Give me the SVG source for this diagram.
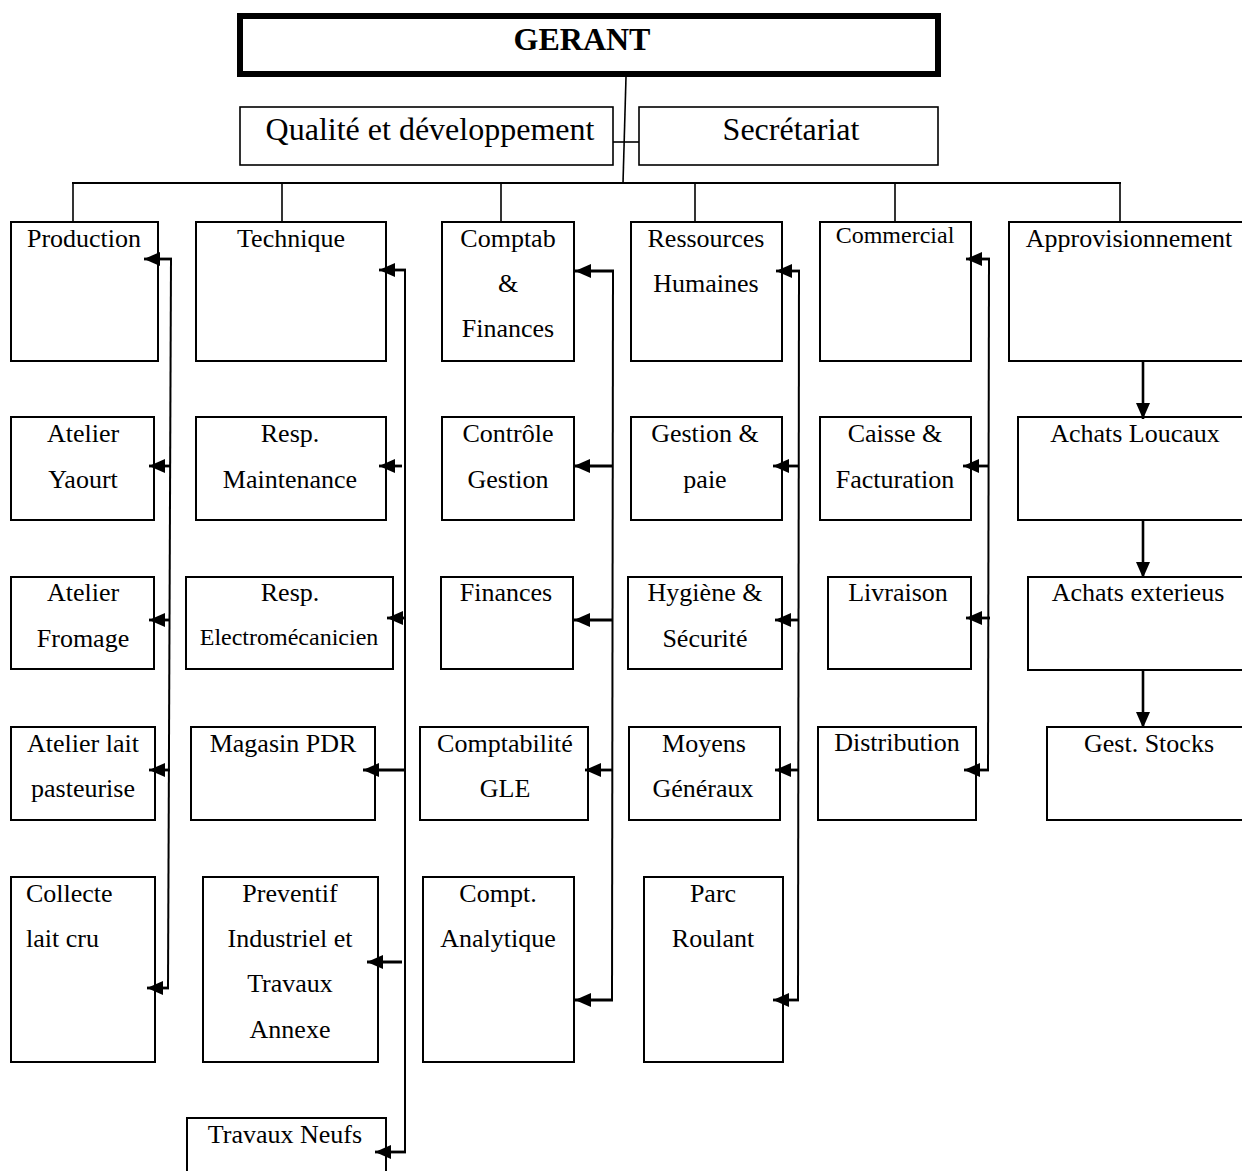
<svg xmlns="http://www.w3.org/2000/svg" width="1242" height="1171" viewBox="0 0 1242 1171">
<style>
  .bx { fill: #fff; stroke: #000; stroke-width: 2; }
  .bxt { fill: #fff; stroke: #000; stroke-width: 1.6; }
  .t { font-family: "Liberation Serif", "Times New Roman", "DejaVu Serif", serif; font-size: 26px; fill: #000; text-anchor: middle; }
  .big { font-size: 32px; }
  .bold { font-weight: bold; }
  .sm { font-size: 24px; }
  .st { text-anchor: start; }
  .ln { stroke: #000; stroke-width: 1.6; fill: none; }
  .ar { stroke: #000; stroke-width: 2.8; fill: none; marker-end: url(#ah); }
  .ard { stroke: #000; stroke-width: 2.6; fill: none; marker-end: url(#ahd); }
</style>
<defs>
  <marker id="ah" viewBox="0 0 16 14" refX="16" refY="7" markerWidth="16" markerHeight="14" markerUnits="userSpaceOnUse" orient="auto">
    <path d="M0,0 L16,7 L0,14 z" fill="#000"/>
  </marker>
  <marker id="ahd" viewBox="0 0 16 14" refX="16" refY="7" markerWidth="16" markerHeight="14" markerUnits="userSpaceOnUse" orient="auto">
    <path d="M0,0 L16,7 L0,14 z" fill="#000"/>
  </marker>
</defs>
<rect width="1242" height="1171" fill="#fff"/>

<g id="gerant">
  <rect x="240" y="16" width="698" height="58" fill="#fff" stroke="#000" stroke-width="6"/>
  <text class="t big bold" x="582" y="50">GERANT</text>
</g>
<g id="qualite">
  <rect class="bxt" x="240" y="107" width="373" height="58"/>
  <text class="t big" x="430" y="140">Qualité et développement</text>
</g>
<g id="secretariat">
  <rect class="bxt" x="639" y="107" width="299" height="58"/>
  <text class="t big" x="791" y="140">Secrétariat</text>
</g>

<g id="production">
  <rect class="bx" x="11" y="222" width="147" height="139"/>
  <text class="t" x="84" y="247">Production</text>
</g>
<g id="technique">
  <rect class="bx" x="196" y="222" width="190" height="139"/>
  <text class="t" x="291" y="247">Technique</text>
</g>
<g id="comptab">
  <rect class="bx" x="442" y="222" width="132" height="139"/>
  <text class="t" x="508" y="247">Comptab</text>
  <text class="t" x="508" y="292">&amp;</text>
  <text class="t" x="508" y="337">Finances</text>
</g>
<g id="rh">
  <rect class="bx" x="631" y="222" width="151" height="139"/>
  <text class="t" x="706" y="247">Ressources</text>
  <text class="t" x="706" y="292">Humaines</text>
</g>
<g id="commercial">
  <rect class="bx" x="820" y="222" width="151" height="139"/>
  <text class="t sm" x="895" y="243">Commercial</text>
</g>
<g id="approvisionnement">
  <rect class="bx" x="1009" y="222" width="245" height="139"/>
  <text class="t" x="1129" y="247">Approvisionnement</text>
</g>

<g id="atelier-yaourt">
  <rect class="bx" x="11" y="417" width="143" height="103"/>
  <text class="t" x="83" y="442">Atelier</text>
  <text class="t" x="83" y="488">Yaourt</text>
</g>
<g id="resp-maintenance">
  <rect class="bx" x="196" y="417" width="190" height="103"/>
  <text class="t" x="290" y="442">Resp.</text>
  <text class="t" x="290" y="488">Maintenance</text>
</g>
<g id="controle-gestion">
  <rect class="bx" x="442" y="417" width="132" height="103"/>
  <text class="t" x="508" y="442">Contrôle</text>
  <text class="t" x="508" y="488">Gestion</text>
</g>
<g id="gestion-paie">
  <rect class="bx" x="631" y="417" width="151" height="103"/>
  <text class="t" x="705" y="442">Gestion &amp;</text>
  <text class="t" x="705" y="488">paie</text>
</g>
<g id="caisse">
  <rect class="bx" x="820" y="417" width="151" height="103"/>
  <text class="t" x="895" y="442">Caisse &amp;</text>
  <text class="t" x="895" y="488">Facturation</text>
</g>
<g id="achats-loucaux">
  <rect class="bx" x="1018" y="417" width="236" height="103"/>
  <text class="t" x="1135" y="442">Achats Loucaux</text>
</g>

<g id="atelier-fromage">
  <rect class="bx" x="11" y="577" width="143" height="92"/>
  <text class="t" x="83" y="601">Atelier</text>
  <text class="t" x="83" y="647">Fromage</text>
</g>
<g id="resp-electro">
  <rect class="bx" x="186" y="577" width="207" height="92"/>
  <text class="t" x="290" y="601">Resp.</text>
  <text class="t sm" x="289" y="645">Electromécanicien</text>
</g>
<g id="finances">
  <rect class="bx" x="441" y="577" width="132" height="92"/>
  <text class="t" x="506" y="601">Finances</text>
</g>
<g id="hygiene">
  <rect class="bx" x="628" y="577" width="154" height="92"/>
  <text class="t" x="705" y="601">Hygiène &amp;</text>
  <text class="t" x="705" y="647">Sécurité</text>
</g>
<g id="livraison">
  <rect class="bx" x="828" y="577" width="143" height="92"/>
  <text class="t" x="898" y="601">Livraison</text>
</g>
<g id="achats-exterieus">
  <rect class="bx" x="1028" y="577" width="226" height="93"/>
  <text class="t" x="1138" y="601">Achats exterieus</text>
</g>

<g id="atelier-lait">
  <rect class="bx" x="11" y="727" width="144" height="93"/>
  <text class="t" x="83" y="752">Atelier lait</text>
  <text class="t" x="83" y="797">pasteurise</text>
</g>
<g id="magasin-pdr">
  <rect class="bx" x="191" y="727" width="184" height="93"/>
  <text class="t" x="283" y="752">Magasin PDR</text>
</g>
<g id="comptabilite-gle">
  <rect class="bx" x="420" y="727" width="168" height="93"/>
  <text class="t" x="505" y="752">Comptabilité</text>
  <text class="t" x="505" y="797">GLE</text>
</g>
<g id="moyens-generaux">
  <rect class="bx" x="629" y="727" width="151" height="93"/>
  <text class="t" x="704" y="752">Moyens</text>
  <text class="t" x="703" y="797">Généraux</text>
</g>
<g id="distribution">
  <rect class="bx" x="818" y="727" width="158" height="93"/>
  <text class="t" x="897" y="751">Distribution</text>
</g>
<g id="gest-stocks">
  <rect class="bx" x="1047" y="727" width="207" height="93"/>
  <text class="t" x="1149" y="752">Gest. Stocks</text>
</g>

<g id="collecte">
  <rect class="bx" x="11" y="877" width="144" height="185"/>
  <text class="t st" x="26" y="902">Collecte</text>
  <text class="t st" x="26" y="947">lait cru</text>
</g>
<g id="preventif">
  <rect class="bx" x="203" y="877" width="175" height="185"/>
  <text class="t" x="290" y="902">Preventif</text>
  <text class="t" x="290" y="947">Industriel et</text>
  <text class="t" x="290" y="992">Travaux</text>
  <text class="t" x="290" y="1038">Annexe</text>
</g>
<g id="compt-analytique">
  <rect class="bx" x="423" y="877" width="151" height="185"/>
  <text class="t" x="498" y="902">Compt.</text>
  <text class="t" x="498" y="947">Analytique</text>
</g>
<g id="parc-roulant">
  <rect class="bx" x="644" y="877" width="139" height="185"/>
  <text class="t" x="713" y="902">Parc</text>
  <text class="t" x="713" y="947">Roulant</text>
</g>

<g id="travaux-neufs">
  <rect class="bx" x="187" y="1118" width="199" height="70"/>
  <text class="t" x="285" y="1143">Travaux Neufs</text>
</g>

<g id="connectors">
  <line class="ln" x1="626" y1="77" x2="623" y2="183"/>
  <line class="ln" x1="613" y1="142" x2="639" y2="142"/>
  <line class="ln" style="stroke-width:2.2" x1="72" y1="183" x2="1121" y2="183"/>
  <line class="ln" x1="73" y1="183" x2="73" y2="222"/>
  <line class="ln" x1="282" y1="183" x2="282" y2="222"/>
  <line class="ln" x1="501" y1="183" x2="501" y2="222"/>
  <line class="ln" x1="695" y1="183" x2="695" y2="222"/>
  <line class="ln" x1="895" y1="183" x2="895" y2="222"/>
  <line class="ln" x1="1120" y1="183" x2="1120" y2="222"/>

  <!-- Production -->
  <line class="ln" style="stroke-width:2" x1="171" y1="259" x2="168" y2="988"/>
  <line class="ar" x1="172" y1="259" x2="144" y2="259"/>
  <line class="ar" x1="171" y1="466" x2="149" y2="466"/>
  <line class="ar" x1="170" y1="620" x2="149" y2="620"/>
  <line class="ar" x1="170" y1="770" x2="149" y2="770"/>
  <line class="ar" x1="169" y1="988" x2="147" y2="988"/>

  <!-- Technique -->
  <line class="ln" style="stroke-width:2" x1="405" y1="270" x2="405" y2="1152"/>
  <line class="ar" x1="406" y1="270" x2="379" y2="270"/>
  <line class="ar" x1="402" y1="466" x2="379" y2="466"/>
  <line class="ar" x1="405" y1="618" x2="387" y2="618"/>
  <line class="ar" x1="405" y1="770" x2="363" y2="770"/>
  <line class="ar" x1="402" y1="962" x2="367" y2="962"/>
  <line class="ar" x1="406" y1="1152" x2="375" y2="1152"/>

  <!-- Comptab -->
  <line class="ln" style="stroke-width:2" x1="613" y1="271" x2="612" y2="1000"/>
  <line class="ar" x1="614" y1="271" x2="575" y2="271"/>
  <line class="ar" x1="613" y1="466" x2="574" y2="466"/>
  <line class="ar" x1="613" y1="620" x2="574" y2="620"/>
  <line class="ar" x1="613" y1="770" x2="585" y2="770"/>
  <line class="ar" x1="613" y1="1000" x2="575" y2="1000"/>

  <!-- RH -->
  <line class="ln" style="stroke-width:2" x1="799" y1="271" x2="798" y2="1000"/>
  <line class="ar" x1="800" y1="271" x2="776" y2="271"/>
  <line class="ar" x1="799" y1="466" x2="773" y2="466"/>
  <line class="ar" x1="799" y1="620" x2="775" y2="620"/>
  <line class="ar" x1="799" y1="770" x2="775" y2="770"/>
  <line class="ar" x1="799" y1="1000" x2="773" y2="1000"/>

  <!-- Commercial -->
  <line class="ln" style="stroke-width:2" x1="989" y1="259" x2="988" y2="770"/>
  <line class="ar" x1="990" y1="259" x2="966" y2="259"/>
  <line class="ar" x1="989" y1="466" x2="963" y2="466"/>
  <line class="ar" x1="990" y1="618" x2="966" y2="618"/>
  <line class="ar" x1="989" y1="770" x2="964" y2="770"/>

  <!-- Approvisionnement -->
  <line class="ard" x1="1143" y1="362" x2="1143" y2="419"/>
  <line class="ard" x1="1143" y1="521" x2="1143" y2="578"/>
  <line class="ard" x1="1143" y1="670" x2="1143" y2="728"/>
</g>
</svg>
